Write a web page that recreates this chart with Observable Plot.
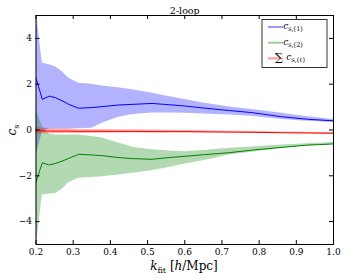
<!DOCTYPE html>
<html><head><meta charset="utf-8">
<script src="https://cdn.jsdelivr.net/npm/d3@7"></script>
<script src="https://cdn.jsdelivr.net/npm/@observablehq/plot@0.6"></script>
<style>body{margin:0;background:#fff} svg{display:block} svg text{font-family:"DejaVu Serif",serif}</style>
</head><body><div id="chart"></div>
<script>
const title = "2-loop";
const kFit = [0.2, 0.217, 0.236, 0.252, 0.27, 0.288, 0.315, 0.35, 0.378, 0.42, 0.46, 0.512, 0.56, 0.6, 0.65, 0.72, 0.78, 0.86, 0.93, 1.0];
const cs1    = [2.26, 1.34, 1.48, 1.41, 1.28, 1.12, 0.95, 0.98, 1.02, 1.09, 1.12, 1.16, 1.10, 1.05, 0.96, 0.85, 0.76, 0.58, 0.47, 0.40];
const cs1Hi  = [5.3, 2.91, 2.85, 2.76, 2.55, 2.26, 2.04, 2.0, 1.92, 1.84, 1.76, 1.60, 1.45, 1.33, 1.18, 1.0, 0.9, 0.73, 0.58, 0.46];
const cs1Lo  = [-1.1, -0.1, 0.05, 0.05, 0.06, 0.06, 0.07, 0.08, 0.29, 0.55, 0.68, 0.74, 0.74, 0.73, 0.70, 0.66, 0.6, 0.46, 0.38, 0.33];
const cs2    = [-2.26, -1.43, -1.53, -1.46, -1.36, -1.24, -1.06, -1.09, -1.12, -1.2, -1.25, -1.28, -1.2, -1.15, -1.08, -0.99, -0.88, -0.76, -0.66, -0.61];
const cs2Hi  = [0.9, 0.15, -0.2, -0.22, -0.22, -0.22, -0.22, -0.28, -0.35, -0.56, -0.75, -0.86, -0.92, -0.95, -0.9, -0.8, -0.74, -0.66, -0.6, -0.55];
const cs2Lo  = [-5.2, -2.84, -2.8, -2.77, -2.6, -2.3, -2.11, -2.07, -2.04, -1.96, -1.89, -1.78, -1.63, -1.48, -1.34, -1.09, -0.97, -0.8, -0.7, -0.63];
const csSum   = [-0.03, -0.04, -0.05, -0.05, -0.05, -0.05, -0.06, -0.06, -0.06, -0.06, -0.06, -0.07, -0.07, -0.07, -0.08, -0.09, -0.1, -0.12, -0.13, -0.14];
const csSumHi = [0.12, 0.08, 0.07, 0.06, 0.05, 0.05, 0.03, 0.02, 0.02, 0.01, 0.01, 0.0, -0.01, -0.02, -0.03, -0.05, -0.06, -0.09, -0.1, -0.11];
const csSumLo = [-0.18, -0.16, -0.17, -0.16, -0.15, -0.15, -0.15, -0.14, -0.14, -0.13, -0.13, -0.13, -0.13, -0.12, -0.13, -0.13, -0.14, -0.15, -0.16, -0.17];
const xTicks = [0.2, 0.3, 0.4, 0.5, 0.6, 0.7, 0.8, 0.9, 1.0];
const yTicks = [-4, -2, 0, 2, 4];
const legendLabels = ["s,(1)", "s,(2)", "s,(ℓ)"];

const W = 344, H = 278, mL = 35.5, mR = 11, mT = 15, mB = 34;
const fw = W - mL - mR, fh = H - mT - mB;
const font = "DejaVu Serif";
const rows = kFit.map((k, i) => ({k, c1: cs1[i], c1hi: cs1Hi[i], c1lo: cs1Lo[i], c2: cs2[i], c2hi: cs2Hi[i], c2lo: cs2Lo[i], s: csSum[i], shi: csSumHi[i], slo: csSumLo[i]}));
const fmt = d => d < 0 ? "\u2212" + Math.abs(d) : String(d);

const chart = Plot.plot({
  width: W, height: H,
  marginLeft: mL, marginRight: mR, marginTop: mT, marginBottom: mB,
  style: {fontSize: "10px", background: "#fff", color: "#000"},
  x: {domain: [0.2, 1.0]},
  y: {domain: [-5, 5]},
  marks: [
    Plot.areaY(rows, {x: "k", y1: "c1lo", y2: "c1hi", fill: "#0000ff", fillOpacity: 0.3, clip: true}),
    Plot.areaY(rows, {x: "k", y1: "c2lo", y2: "c2hi", fill: "#008000", fillOpacity: 0.3, clip: true}),
    Plot.areaY(rows, {x: "k", y1: "slo", y2: "shi", fill: "#ff0000", fillOpacity: 0.3, clip: true}),
    Plot.lineY(rows, {x: "k", y: "c1", stroke: "#0000ff", strokeWidth: 1, clip: true}),
    Plot.lineY(rows, {x: "k", y: "c2", stroke: "#008000", strokeWidth: 1, clip: true}),
    Plot.lineY(rows, {x: "k", y: "s", stroke: "#ff0000", strokeWidth: 1, clip: true}),
    Plot.tickX(xTicks, {x: d => d, stroke: "#000", insetTop: fh - 4}),
    Plot.tickX(xTicks, {x: d => d, stroke: "#000", insetBottom: fh - 4}),
    Plot.tickY(yTicks, {y: d => d, stroke: "#000", insetRight: fw - 4}),
    Plot.tickY(yTicks, {y: d => d, stroke: "#000", insetLeft: fw - 4}),
    Plot.frame({stroke: "#000", strokeWidth: 1}),
    Plot.axisX({ticks: xTicks, tickSize: 0, tickPadding: 4, tickFormat: d => d.toFixed(1), label: null, fontSize: 9}),
    Plot.axisY({ticks: yTicks, tickSize: 0, tickPadding: 4, tickFormat: fmt, label: null, fontSize: 9}),
    Plot.text([title], {text: d => d, frameAnchor: "top", dy: -8, fontSize: 9.5})
  ]
});
document.getElementById("chart").appendChild(chart);

const svg = d3.select(chart);
// x label
const xl = svg.append("text").attr("x", 184).attr("y", 270).attr("text-anchor", "middle")
  .attr("font-size", 12).attr("fill", "#000");
xl.append("tspan").attr("font-style", "italic").text("k");
xl.append("tspan").attr("font-size", 8).attr("dy", 3).text("fit");
xl.append("tspan").attr("dy", -3).text(" [");
xl.append("tspan").attr("font-style", "italic").text("h");
xl.append("tspan").text("/Mpc]");
// y label
const yl = svg.append("text").attr("transform", "translate(16,130) rotate(-90)").attr("text-anchor", "middle")
  .attr("font-size", 12).attr("fill", "#000");
yl.append("tspan").attr("font-style", "italic").text("c");
yl.append("tspan").attr("font-size", 8).attr("dy", 3).text("s");

// legend
const lg = svg.append("g");
lg.append("rect").attr("x", 262).attr("y", 19.5).attr("width", 65).attr("height", 48)
  .attr("fill", "#fff").attr("stroke", "#333").attr("stroke-width", 1);
const lcol = ["#0000ff", "#008000", "#ff0000"];
legendLabels.forEach((lab, i) => {
  const y = 27 + i * 15.7;
  lg.append("line").attr("x1", 268).attr("x2", 283).attr("y1", y).attr("y2", y)
    .attr("stroke", lcol[i]).attr("stroke-opacity", 0.4).attr("stroke-width", 2);
  const t = lg.append("text").attr("x", i === 2 ? 290 : 293).attr("y", y + 2)
    .attr("font-size", 9).attr("fill", "#000");
  if (i === 2) t.append("tspan").attr("font-size", 11).attr("dy", 1).text("\u2211 ");
  t.append("tspan").attr("font-style", "italic").attr("dy", i === 2 ? -1 : 0).text("c");
  t.append("tspan").attr("font-size", 6.5).attr("dy", 2).text(lab);
});
</script></body></html>
